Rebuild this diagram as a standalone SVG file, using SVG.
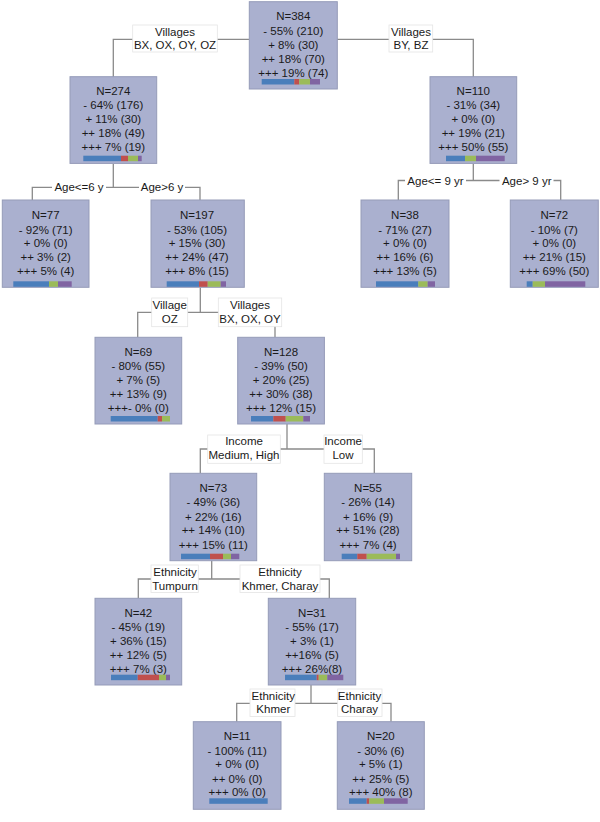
<svg xmlns="http://www.w3.org/2000/svg" width="600" height="822" viewBox="0 0 600 822">
<style>
text{font-family:"Liberation Sans",Arial,sans-serif;font-size:11.5px;fill:#1a1a1a;text-anchor:middle}
.box{fill:#AAB0CF;stroke:#959BB8;stroke-width:1}
.lbl{fill:#ffffff;stroke:#e4e4e4;stroke-width:0.8}
.lblw{fill:#ffffff;stroke:none}
.con{fill:none;stroke:#8a8a8a;stroke-width:1.3}
.b{fill:#4A7EBB}.r{fill:#C0504D}.g{fill:#9BBB59}.p{fill:#8064A2}
</style>
<rect width="600" height="822" fill="#ffffff"/>
<g id="connectors">
<polyline class="con" points="249,39.3 113.3,39.3 113.3,77"/>
<polyline class="con" points="337,39.3 473.3,39.3 473.3,77"/>
<polyline class="con" points="113.3,164 113.3,187.3"/>
<polyline class="con" points="32.3,200 32.3,187.3 200,187.3 200,200"/>
<polyline class="con" points="473.3,164 473.3,180.5"/>
<polyline class="con" points="398.3,200 398.3,180.5 560.7,180.5 560.7,200"/>
<polyline class="con" points="200.3,287.5 200.3,312.3"/>
<polyline class="con" points="137.7,337.3 137.7,312.3 275,312.3 275,337.3"/>
<polyline class="con" points="287,424 287,449"/>
<polyline class="con" points="200.3,473.3 200.3,449 374.3,449 374.3,473.3"/>
<polyline class="con" points="211.7,560.7 211.7,579"/>
<polyline class="con" points="138.3,598.3 138.3,579 329.3,579 329.3,598.3"/>
<polyline class="con" points="311,685 311,703.3"/>
<polyline class="con" points="236.7,721.7 236.7,703.3 391,703.3 391,721.7"/>
<g id="edge-labels">
<rect class="lbl" x="132.7" y="25" width="84.6" height="27"/>
<text x="175" y="35.7">Villages</text><text x="175" y="49">BX, OX, OY, OZ</text>
<rect class="lbl" x="389" y="25" width="43.7" height="27"/>
<text x="411" y="35.7">Villages</text><text x="411" y="49">BY, BZ</text>
<rect class="lblw" x="52" y="180" width="54" height="15"/>
<text x="79" y="191.3">Age&lt;=6 y</text>
<rect class="lblw" x="139" y="180" width="46" height="15"/>
<text x="162" y="191.3">Age&gt;6 y</text>
<rect class="lblw" x="405" y="173" width="61" height="15"/>
<text x="435.5" y="184.5">Age&lt;= 9 yr</text>
<rect class="lblw" x="499.5" y="173" width="54" height="15"/>
<text x="526.7" y="184.5">Age&gt; 9 yr</text>
<rect class="lbl" x="151.7" y="298" width="36" height="28.7"/>
<text x="169.7" y="309">Village</text><text x="169.7" y="323">OZ</text>
<rect class="lbl" x="218.3" y="298" width="63.4" height="28.7"/>
<text x="250" y="309">Villages</text><text x="250" y="323">BX, OX, OY</text>
<rect class="lbl" x="207.7" y="435" width="72.6" height="28.3"/>
<text x="244" y="445.3">Income</text><text x="244" y="459">Medium, High</text>
<rect class="lbl" x="324" y="435" width="38.3" height="28.3"/>
<text x="343" y="445.3">Income</text><text x="343" y="459">Low</text>
<rect class="lbl" x="151" y="565" width="47.3" height="27.5"/>
<text x="175" y="576.3">Ethnicity</text><text x="175" y="589.7">Tumpurn</text>
<rect class="lbl" x="240" y="565" width="80" height="27.5"/>
<text x="280" y="576.3">Ethnicity</text><text x="280" y="589.7">Khmer, Charay</text>
<rect class="lbl" x="250" y="689" width="45" height="27.5"/>
<text x="273.3" y="699.7">Ethnicity</text><text x="273.3" y="713.3">Khmer</text>
<rect class="lbl" x="337.7" y="689" width="44.3" height="27.5"/>
<text x="359.5" y="699.7">Ethnicity</text><text x="359.5" y="713.3">Charay</text>
</g>
</g>
<g id="n384">
<rect class="box" x="249.3" y="1.7" width="88" height="87.3"/>
<text x="293.3" y="19.7">N=384</text><text x="293.3" y="35">- 55% (210)</text><text x="293.3" y="48.5">+ 8% (30)</text><text x="293.3" y="63">++ 18% (70)</text><text x="293.3" y="76.5">+++ 19% (74)</text>
<rect class="b" x="261.7" y="79" width="32.6" height="5.5"/><rect class="r" x="294.3" y="79" width="5" height="5.5"/><rect class="g" x="299.3" y="79" width="10.7" height="5.5"/><rect class="p" x="310" y="79" width="10" height="5.5"/>
</g>
<g id="n274">
<rect class="box" x="70" y="76.7" width="86.7" height="86.7"/>
<text x="113.3" y="94.7">N=274</text><text x="113.3" y="109.3">- 64% (176)</text><text x="113.3" y="123">+ 11% (30)</text><text x="113.3" y="137.3">++ 18% (49)</text><text x="113.3" y="150.7">+++ 7% (19)</text>
<rect class="b" x="83.3" y="155.7" width="37.7" height="5.5"/><rect class="r" x="121" y="155.7" width="7" height="5.5"/><rect class="g" x="128" y="155.7" width="10" height="5.5"/><rect class="p" x="138" y="155.7" width="3.7" height="5.5"/>
</g>
<g id="n110">
<rect class="box" x="430" y="76.7" width="86.7" height="86.7"/>
<text x="473.3" y="94.7">N=110</text><text x="473.3" y="109.3">- 31% (34)</text><text x="473.3" y="123">+ 0% (0)</text><text x="473.3" y="137.3">++ 19% (21)</text><text x="473.3" y="150.7">+++ 50% (55)</text>
<rect class="b" x="446" y="155.7" width="19" height="5.5"/><rect class="g" x="465" y="155.7" width="11" height="5.5"/><rect class="p" x="476" y="155.7" width="28.7" height="5.5"/>
</g>
<g id="n77">
<rect class="box" x="2.3" y="200" width="86.7" height="87.3"/>
<text x="45.7" y="219">N=77</text><text x="45.7" y="233.7">- 92% (71)</text><text x="45.7" y="247.3">+ 0% (0)</text><text x="45.7" y="261.3">++ 3% (2)</text><text x="45.7" y="274.7">+++ 5% (4)</text>
<rect class="b" x="13.3" y="281.3" width="35.7" height="5.5"/><rect class="g" x="49" y="281.3" width="9" height="5.5"/><rect class="p" x="58" y="281.3" width="13.7" height="5.5"/>
</g>
<g id="n197">
<rect class="box" x="151" y="200" width="93.3" height="87.3"/>
<text x="197" y="219">N=197</text><text x="197" y="233.7">- 53% (105)</text><text x="197" y="247.3">+ 15% (30)</text><text x="197" y="261.3">++ 24% (47)</text><text x="197" y="274.7">+++ 8% (15)</text>
<rect class="b" x="166.7" y="281.3" width="32.3" height="5.5"/><rect class="r" x="199" y="281.3" width="8.7" height="5.5"/><rect class="g" x="207.7" y="281.3" width="13" height="5.5"/><rect class="p" x="220.7" y="281.3" width="5.3" height="5.5"/>
</g>
<g id="n38">
<rect class="box" x="361" y="200" width="88" height="87.3"/>
<text x="405" y="219">N=38</text><text x="405" y="233.7">- 71% (27)</text><text x="405" y="247.3">+ 0% (0)</text><text x="405" y="261.3">++ 16% (6)</text><text x="405" y="274.7">+++ 13% (5)</text>
<rect class="b" x="376" y="281.3" width="42.3" height="5.5"/><rect class="g" x="418.3" y="281.3" width="9.4" height="5.5"/><rect class="p" x="427.7" y="281.3" width="7.3" height="5.5"/>
</g>
<g id="n72">
<rect class="box" x="510.3" y="200" width="88" height="87.3"/>
<text x="554.3" y="219">N=72</text><text x="554.3" y="233.7">- 10% (7)</text><text x="554.3" y="247.3">+ 0% (0)</text><text x="554.3" y="261.3">++ 21% (15)</text><text x="554.3" y="274.7">+++ 69% (50)</text>
<rect class="b" x="526.7" y="281.3" width="6" height="5.5"/><rect class="g" x="532.7" y="281.3" width="12.3" height="5.5"/><rect class="p" x="545" y="281.3" width="40.3" height="5.5"/>
</g>
<g id="n69">
<rect class="box" x="95" y="337.3" width="86.7" height="86.7"/>
<text x="138.3" y="355.7">N=69</text><text x="138.3" y="370">- 80% (55)</text><text x="138.3" y="384">+ 7% (5)</text><text x="138.3" y="398">++ 13% (9)</text><text x="138.3" y="411.7">+++- 0% (0)</text>
<rect class="b" x="110.7" y="416" width="47" height="5.5"/><rect class="r" x="157.7" y="416" width="4.3" height="5.5"/><rect class="g" x="162" y="416" width="8" height="5.5"/>
</g>
<g id="n128">
<rect class="box" x="237.7" y="337.3" width="86.7" height="86.7"/>
<text x="281" y="355.7">N=128</text><text x="281" y="370">- 39% (50)</text><text x="281" y="384">+ 20% (25)</text><text x="281" y="398">++ 30% (38)</text><text x="281" y="411.7">+++ 12% (15)</text>
<rect class="b" x="251" y="416" width="22.3" height="5.5"/><rect class="r" x="273.3" y="416" width="12.4" height="5.5"/><rect class="g" x="285.7" y="416" width="17.6" height="5.5"/><rect class="p" x="303.3" y="416" width="6.7" height="5.5"/>
</g>
<g id="n73">
<rect class="box" x="170" y="473.3" width="86.7" height="87.4"/>
<text x="213.3" y="492">N=73</text><text x="213.3" y="506.3">- 49% (36)</text><text x="213.3" y="521">+ 22% (16)</text><text x="213.3" y="534.3">++ 14% (10)</text><text x="213.3" y="548.7">+++ 15% (11)</text>
<rect class="b" x="181" y="553.7" width="29" height="5.5"/><rect class="r" x="210" y="553.7" width="13" height="5.5"/><rect class="g" x="223" y="553.7" width="8" height="5.5"/><rect class="p" x="231" y="553.7" width="8.3" height="5.5"/>
</g>
<g id="n55">
<rect class="box" x="324.3" y="473.3" width="87.4" height="87.4"/>
<text x="368" y="492">N=55</text><text x="368" y="506.3">- 26% (14)</text><text x="368" y="521">+ 16% (9)</text><text x="368" y="534.3">++ 51% (28)</text><text x="368" y="548.7">+++ 7% (4)</text>
<rect class="b" x="341.7" y="553.7" width="15.6" height="5.5"/><rect class="r" x="357.3" y="553.7" width="9.4" height="5.5"/><rect class="g" x="366.7" y="553.7" width="29.3" height="5.5"/><rect class="p" x="396" y="553.7" width="4" height="5.5"/>
</g>
<g id="n42">
<rect class="box" x="95" y="598.3" width="86.7" height="86.7"/>
<text x="138.3" y="616.7">N=42</text><text x="138.3" y="631">- 45% (19)</text><text x="138.3" y="645">+ 36% (15)</text><text x="138.3" y="659">++ 12% (5)</text><text x="138.3" y="673">+++ 7% (3)</text>
<rect class="b" x="111" y="674.7" width="26.7" height="5.5"/><rect class="r" x="137.7" y="674.7" width="21.3" height="5.5"/><rect class="g" x="159" y="674.7" width="7" height="5.5"/><rect class="p" x="166" y="674.7" width="4" height="5.5"/>
</g>
<g id="n31">
<rect class="box" x="268.3" y="598.3" width="87.4" height="86.7"/>
<text x="312" y="616.7">N=31</text><text x="312" y="631">- 55% (17)</text><text x="312" y="645">+ 3% (1)</text><text x="312" y="659">++16% (5)</text><text x="312" y="673">+++ 26%(8)</text>
<rect class="b" x="285" y="674.7" width="31.7" height="5.5"/><rect class="r" x="316.7" y="674.7" width="2" height="5.5"/><rect class="g" x="318.7" y="674.7" width="8.6" height="5.5"/><rect class="p" x="327.3" y="674.7" width="16" height="5.5"/>
</g>
<g id="n11">
<rect class="box" x="193.3" y="721.7" width="87.7" height="87.6"/>
<text x="237.2" y="739.7">N=11</text><text x="237.2" y="754.7">- 100% (11)</text><text x="237.2" y="768.3">+ 0% (0)</text><text x="237.2" y="783">++ 0% (0)</text><text x="237.2" y="795.7">+++ 0% (0)</text>
<rect class="b" x="209.3" y="798.3" width="58.4" height="5.5"/>
</g>
<g id="n20">
<rect class="box" x="337.3" y="721.7" width="87" height="87.6"/>
<text x="380.8" y="739.7">N=20</text><text x="380.8" y="754.7">- 30% (6)</text><text x="380.8" y="768.3">+ 5% (1)</text><text x="380.8" y="783">++ 25% (5)</text><text x="380.8" y="795.7">+++ 40% (8)</text>
<rect class="b" x="349" y="798.3" width="17.7" height="5.5"/><rect class="r" x="366.7" y="798.3" width="2.6" height="5.5"/><rect class="g" x="369.3" y="798.3" width="14.7" height="5.5"/><rect class="p" x="384" y="798.3" width="23.7" height="5.5"/>
</g>
</svg>
